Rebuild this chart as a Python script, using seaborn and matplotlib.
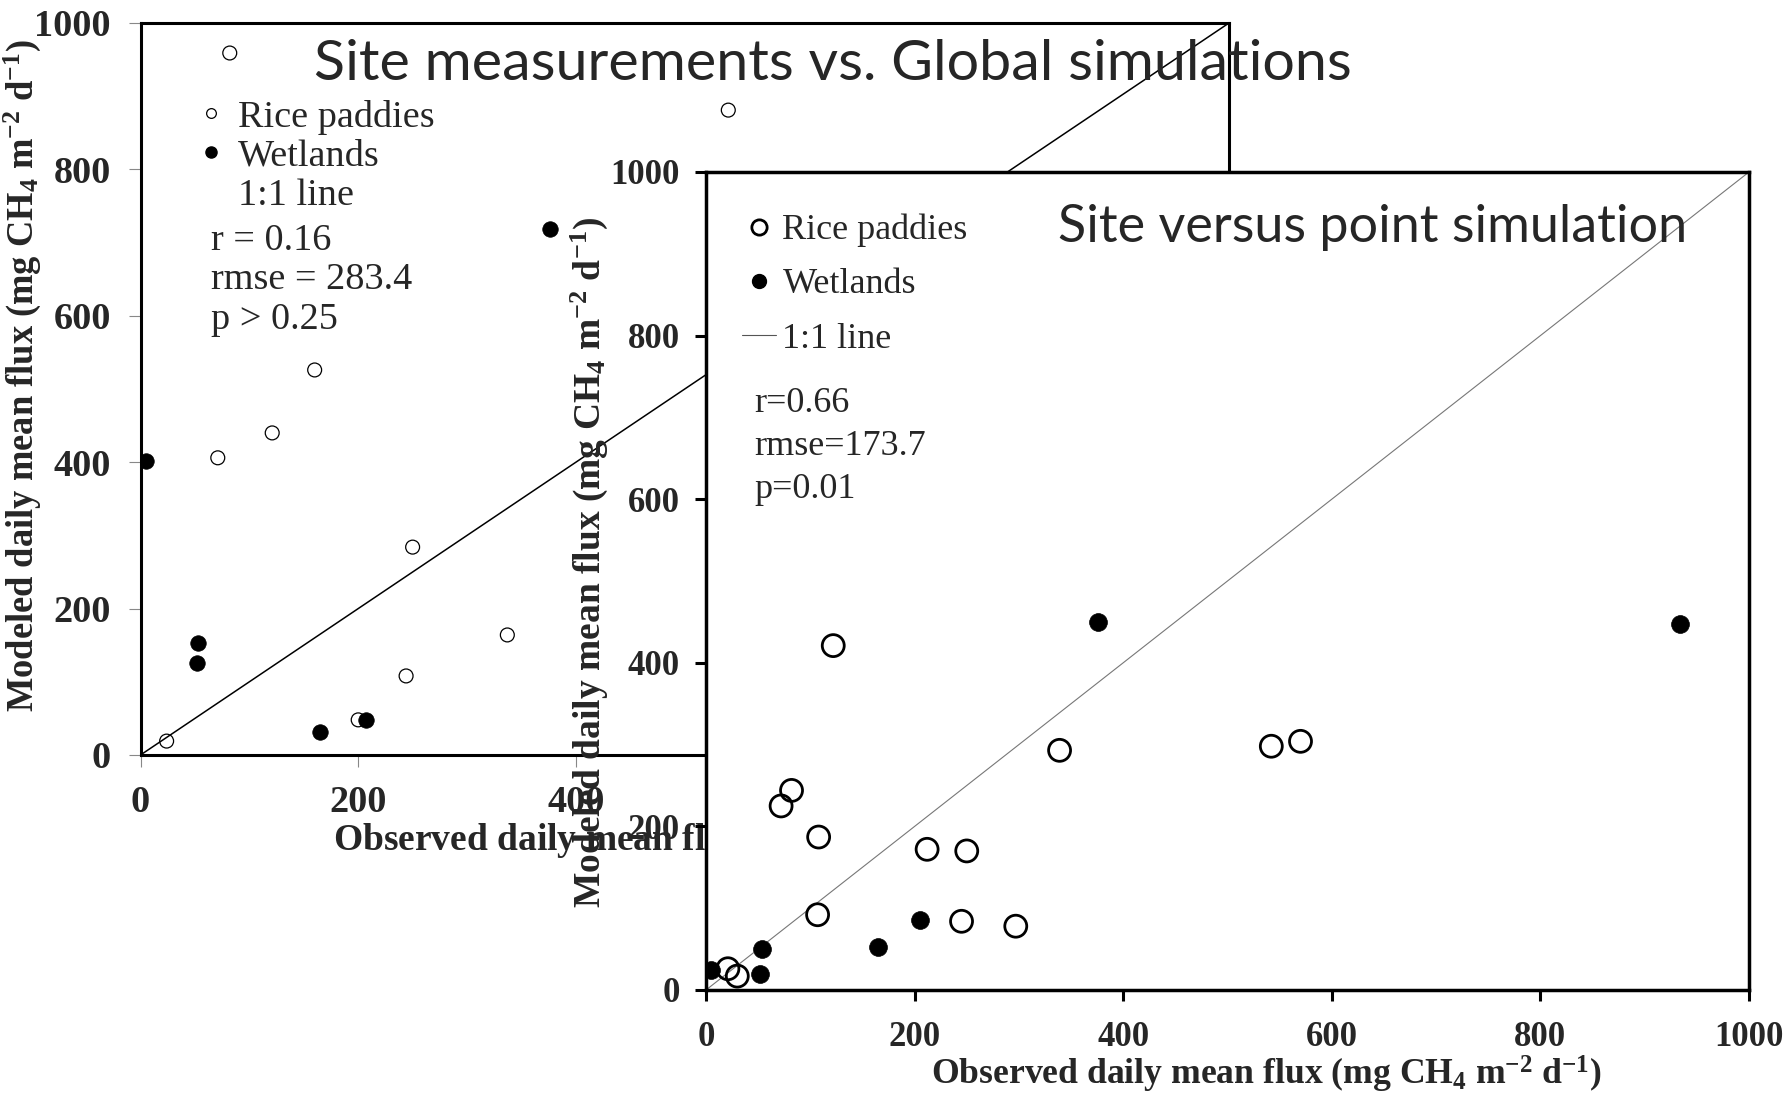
import matplotlib
matplotlib.use("Agg")
import matplotlib.pyplot as plt
import seaborn as sns
import pandas as pd
from matplotlib.lines import Line2D

# ---------------- data ----------------
# Back panel: site measurements vs. global simulations
glob_rice_obs = [82, 540, 71, 121, 160, 250, 337, 244, 24, 200]
glob_rice_mod = [959, 881, 406, 440, 526, 284, 164, 108, 19, 48]
glob_wet_obs = [5, 53, 52, 165, 207, 376]
glob_wet_mod = [402, 153, 126, 31, 48, 719]

# Front panel: site versus point simulation
pt_rice_obs = [21, 30, 72, 82, 108, 107, 122, 212, 250, 245, 297, 339, 542, 570]
pt_rice_mod = [26, 17, 225, 244, 187, 92, 421, 172, 170, 84, 78, 293, 298, 304]
pt_wet_obs = [5, 54, 52, 165, 205, 376, 934]
pt_wet_mod = [24, 50, 20, 53, 85, 450, 448]

one_to_one = [0, 1000]
ticks = [0, 200, 400, 600, 800, 1000]

back_title = "Site measurements vs. Global simulations"
front_title = "Site versus point simulation"
back_stats = "r = 0.16\nrmse = 283.4\np > 0.25"
front_stats = "r=0.66\nrmse=173.7\np=0.01"
ylab = r"Modeled daily mean flux (mg CH$_4$ m$^{-2}$ d$^{-1}$)"
xlab = r"Observed daily mean flux (mg CH$_4$ m$^{-2}$ d$^{-1}$)"

# ---------------- style ----------------
sns.set_style("ticks")
plt.rcParams["font.family"] = ["Liberation Serif", "DejaVu Serif"]
plt.rcParams["mathtext.fontset"] = "custom"
plt.rcParams["mathtext.rm"] = "Liberation Serif"
plt.rcParams["mathtext.bf"] = "Liberation Serif:bold"
plt.rcParams["mathtext.default"] = "bf"

W, H = 1789, 1097
fig = plt.figure(figsize=(W / 100, H / 100), dpi=100)
fig.patch.set_facecolor("white")

def rect(l, r, t, b):
    return [l / W, 1 - b / H, (r - l) / W, (b - t) / H]

# ---------------- back panel ----------------
axb = fig.add_axes(rect(140.5, 1229, 23, 755))
sns.lineplot(x=one_to_one, y=one_to_one, ax=axb, color="black", lw=1.1)
sns.scatterplot(x=glob_rice_obs, y=glob_rice_mod, ax=axb, marker="o", s=100,
                facecolor="none", edgecolor="black", linewidth=0.9, zorder=3)
sns.scatterplot(x=glob_wet_obs, y=glob_wet_mod, ax=axb, marker="o", s=125,
                color="black", edgecolor="black", linewidth=0.5, zorder=3)
axb.set_xlim(0, 1000)
axb.set_ylim(0, 1000)
axb.set_xticks(ticks)
axb.set_yticks(ticks)
for s in axb.spines.values():
    s.set_linewidth(2.2)
    s.set_color("black")
axb.tick_params(length=8.5, width=0.8, color="#888888", labelsize=27.5, pad=13)
for lbl in axb.get_xticklabels() + axb.get_yticklabels():
    lbl.set_fontweight("bold")
axb.set_ylabel(ylab, fontsize=26.3, fontweight="bold")
axb.set_xlabel(xlab, fontsize=27, fontweight="bold")
axb.yaxis.set_label_coords(-0.0896, 0.518)
axb.xaxis.set_label_coords(0.501, -0.087)

hb = [Line2D([], [], ls="none", marker="o", ms=7, mfc="none", mec="black", mew=0.9),
      Line2D([], [], ls="none", marker="o", ms=8, mfc="black", mec="black"),
      Line2D([], [], color="none")]
axb.legend(hb, ["Rice paddies", "Wetlands", "1:1 line"], loc="upper left",
           bbox_to_anchor=(0.051, 0.895), frameon=False, borderpad=0,
           borderaxespad=0, handlelength=0.8, handletextpad=0.3,
           labelspacing=0.11, fontsize=27.5)
axb.text(0.065, 0.726, back_stats, transform=axb.transAxes, ha="left", va="top",
         fontsize=27.5, linespacing=1.18)

# ---------------- front panel ----------------
axf = fig.add_axes(rect(706, 1749, 172, 990))
axf.set_facecolor("white")
axf.patch.set_alpha(1.0)
sns.lineplot(x=one_to_one, y=one_to_one, ax=axf, color="#777777", lw=0.8)
sns.scatterplot(x=pt_rice_obs, y=pt_rice_mod, ax=axf, marker="o", s=250,
                facecolor="none", edgecolor="black", linewidth=2.0, zorder=3)
sns.scatterplot(x=pt_wet_obs, y=pt_wet_mod, ax=axf, marker="o", s=165,
                color="black", edgecolor="black", linewidth=0.5, zorder=3)
axf.set_xlim(0, 1000)
axf.set_ylim(0, 1000)
axf.set_xticks(ticks)
axf.set_yticks(ticks)
for s in axf.spines.values():
    s.set_linewidth(2.5)
    s.set_color("black")
axf.tick_params(length=8, width=2.2, color="black", labelsize=25)
axf.tick_params(axis="y", pad=11)
axf.tick_params(axis="x", pad=14)
for lbl in axf.get_xticklabels() + axf.get_yticklabels():
    lbl.set_fontweight("bold")
axf.set_ylabel(ylab, fontsize=27, fontweight="bold")
axf.set_xlabel(xlab, fontsize=25.7, fontweight="bold")
axf.yaxis.set_label_coords(-0.092, 0.523)
axf.xaxis.set_label_coords(0.537, -0.078)

hf = [Line2D([], [], ls="none", marker="o", ms=11, mfc="none", mec="black", mew=2.0),
      Line2D([], [], ls="none", marker="o", ms=10, mfc="black", mec="black"),
      Line2D([], [], color="#555555", lw=0.8)]
axf.legend(hf, ["Rice paddies", "Wetlands", "1:1 line"], loc="upper left",
           bbox_to_anchor=(0.0345, 0.949), frameon=False, borderpad=0,
           borderaxespad=0, handlelength=0.95, handletextpad=0.17,
           labelspacing=0.58, fontsize=26)
axf.text(0.046, 0.737, front_stats, transform=axf.transAxes, ha="left", va="top",
         fontsize=26, linespacing=1.4)

# titles (sans-serif)
fig.text(833 / W, 1 - 64 / H, back_title, ha="center", va="center",
         fontsize=41.3, family=["Lato", "DejaVu Sans"])
axf.text(0.6395, 0.932, front_title, transform=axf.transAxes, ha="center",
         va="center", fontsize=37.5, family=["Lato", "DejaVu Sans"])

fig.savefig("out.png", dpi=100, facecolor="white")
